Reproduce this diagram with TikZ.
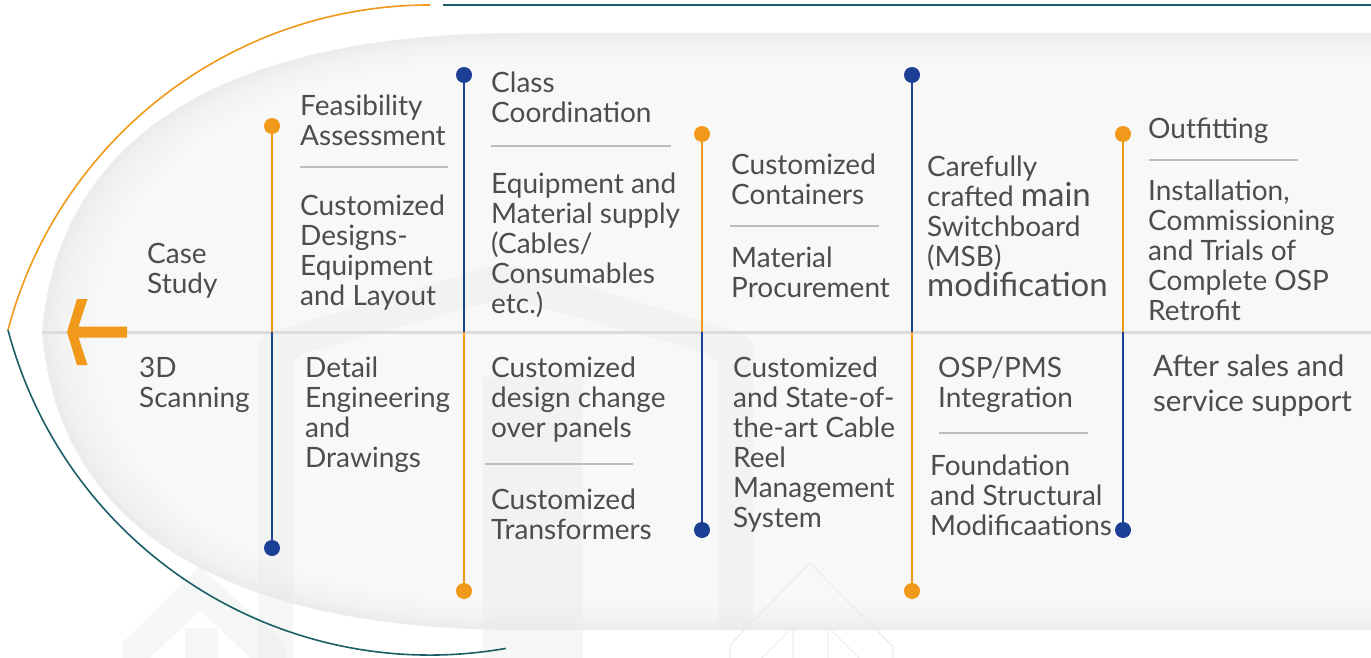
\documentclass[tikz,border=0pt]{standalone}
\usepackage{fontspec}
\setmainfont{Lato}
\definecolor{txtc}{HTML}{4D4D4D}
\definecolor{orgc}{HTML}{F0991A}
\definecolor{bluc}{HTML}{1B3F94}
\definecolor{tealc}{HTML}{1B5F66}
\definecolor{sepc}{HTML}{BDBDBD}
\definecolor{midc}{HTML}{DCDCDC}
\definecolor{edgec}{HTML}{ECECEC}
\definecolor{logoc}{HTML}{E6ECE9}
\begin{document}
\begin{tikzpicture}[x=1pt,y=-1pt,
  txt/.style={font=\fontsize{28}{30}\selectfont, text=txtc, align=left, anchor=north west, inner sep=0pt},
  dot/.style={circle, fill=#1, inner sep=0pt, minimum size=16pt},
  stem/.style={draw=#1, line width=2pt},
  sepline/.style={draw=sepc, line width=1.6pt},
  logo/.style={fill=logoc, fill opacity=0.38}]
\useasboundingbox (0,0) rectangle (1371,658);
\fill[white] (0,0) rectangle (1371,658);
% background glow
\fill[edgec] (42,332) .. controls (60,120) and (250,33) .. (520,33) -- (1390,33) -- (1390,630) -- (520,630) .. controls (250,630) and (60,544) .. cycle;
\foreach \d in {3,6,...,78}{
  \fill[white, opacity=0.14] ({42+1.8*\d},332) .. controls ({60+1.8*\d},{120+\d}) and ({250+\d},{33+\d}) .. (520,{33+\d}) -- (1390,{33+\d}) -- (1390,{630-\d}) -- (520,{630-\d}) .. controls ({250+\d},{630-\d}) and ({60+1.8*\d},{544-\d}) .. cycle;
}
% watermark logos
\fill[logo, rounded corners=12pt] (258,670) -- (258,336) -- (505,262) -- (753,336) -- (753,630) -- (718,630) -- (718,356) -- (505,298) -- (293,356) -- (293,670) -- cycle;
\fill[logo] (483,670) -- (483,377) -- (583,377) -- (583,670) -- cycle;
\fill[logo] (122,670) -- (122,643) -- (200,567) -- (285,643) -- (285,670) -- (250,670) -- (250,658) -- (200,610) -- (150,658) -- (150,670) -- cycle;
\fill[logo] (185,670) -- (185,628) -- (218,628) -- (218,670) -- cycle;
\draw[draw=logoc, line width=1pt] (730,660) -- (730,645) -- (810,563) -- (893,647) -- (893,660);
\draw[draw=logoc, line width=1pt] (760,660) -- (793,627) -- (793,660) (828,660) -- (828,627) -- (861,660);
% outer frame curves
\draw[orgc, line width=1.6pt] (8,330) arc[start angle=194.8, end angle=270, radius=436.5];
\draw[tealc, line width=1.6pt] (8,330) arc[start angle=165.2, end angle=80, radius=436.5];
\coordinate (tl) at (443,5);
\coordinate (tr) at (1371,5);
\draw[tealc, line width=2.2pt] (tl) -- (tr);
% centre line
\coordinate (ml) at (42,332);
\coordinate (mr) at (1371,332);
\draw[midc, line width=3pt] (ml) -- (mr);
% arrow
\fill[orgc] (77,299) -- (87.5,299) -- (78.5,326.5) -- (127,326.5) -- (127,337.5) -- (78.5,337.5) -- (87.5,365) -- (77,365) -- (67,332) -- cycle;
% stems
\node[dot=orgc] (t1) at (272,126) {};
\node[dot=bluc] (b1) at (272,548) {};
\coordinate (c1) at (272,332);
\node[dot=bluc] (t2) at (464,75) {};
\node[dot=orgc] (b2) at (464,591) {};
\coordinate (c2) at (464,332);
\node[dot=orgc] (t3) at (702,134) {};
\node[dot=bluc] (b3) at (702,530) {};
\coordinate (c3) at (702,332);
\node[dot=bluc] (t4) at (912,75) {};
\node[dot=orgc] (b4) at (912,591) {};
\coordinate (c4) at (912,332);
\node[dot=orgc] (t5) at (1123,134) {};
\node[dot=bluc] (b5) at (1123,530) {};
\coordinate (c5) at (1123,332);
\draw[stem=orgc] (t1) -- (c1); \draw[stem=bluc] (c1) -- (b1);
\draw[stem=bluc] (t2) -- (c2); \draw[stem=orgc] (c2) -- (b2);
\draw[stem=orgc] (t3) -- (c3); \draw[stem=bluc] (c3) -- (b3);
\draw[stem=bluc] (t4) -- (c4); \draw[stem=orgc] (c4) -- (b4);
\draw[stem=orgc] (t5) -- (c5); \draw[stem=bluc] (c5) -- (b5);
% separators
\coordinate (s1a) at (300,167); \coordinate (s1b) at (448,167);
\coordinate (s2a) at (491,146); \coordinate (s2b) at (671,146);
\coordinate (s3a) at (730,226); \coordinate (s3b) at (879,226);
\coordinate (s4a) at (485,464); \coordinate (s4b) at (633,464);
\coordinate (s5a) at (939,433); \coordinate (s5b) at (1088,433);
\coordinate (s6a) at (1149,160); \coordinate (s6b) at (1298,160);
\draw[sepline] (s1a) -- (s1b);
\draw[sepline] (s2a) -- (s2b);
\draw[sepline] (s3a) -- (s3b);
\draw[sepline] (s4a) -- (s4b);
\draw[sepline] (s5a) -- (s5b);
\draw[sepline] (s6a) -- (s6b);
% texts
\node[txt] (case) at (147,243) {Case\\Study};
\node[txt] (scan) at (139,357) {3D\\Scanning};
\node[txt] (feas) at (300,95) {Feasibility\\Assessment};
\node[txt] (cdes) at (300,195) {Customized\\Designs-\\Equipment\\and Layout};
\node[txt] (deta) at (305,357) {Detail\\Engineering\\and\\Drawings};
\node[txt] (clas) at (491,72) {Class\\Coordination};
\node[txt] (equi) at (491,173) {Equipment and\\Material supply\\(Cables/\\Consumables\\etc.)};
\node[txt] (cdcp) at (491,357) {Customized\\design change\\over panels};
\node[txt] (ctra) at (491,489) {Customized\\Transformers};
\node[txt] (ccon) at (731,154) {Customized\\Containers};
\node[txt] (mpro) at (731,247) {Material\\Procurement};
\node[txt] (cabl) at (733,357) {Customized\\and State-of-\\the-art Cable\\Reel\\Management\\System};
\node[txt] (msb) at (927,156) {Carefully\\crafted {\fontsize{33}{30}\selectfont main}\\Switchboard\\(MSB)\\{\fontsize{33}{30}\selectfont modification}};
\node[txt] (osp) at (938,357) {OSP/PMS\\Integration};
\node[txt] (foun) at (930,455) {Foundation\\and Structural\\Modificaations};
\node[txt] (outf) at (1148,118) {Outfitting};
\node[txt] (inst) at (1148,180) {Installation,\\Commissioning\\and Trials of\\Complete OSP\\Retrofit};
\node[txt, font=\fontsize{29.5}{35}\selectfont] (after) at (1153,355) {After sales and\\service support};
\end{tikzpicture}
\end{document}
